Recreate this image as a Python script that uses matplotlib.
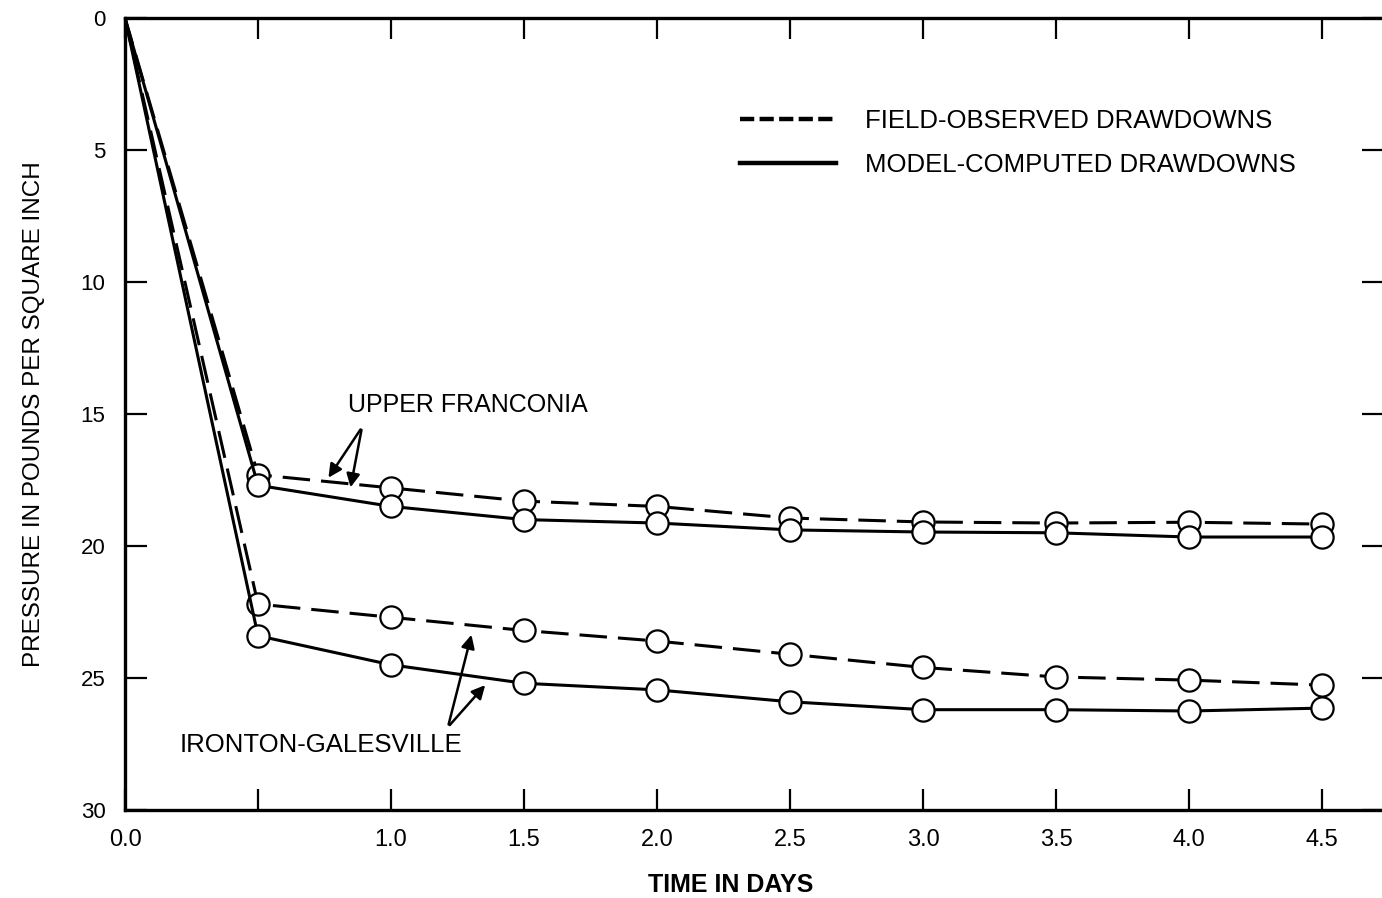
import matplotlib.pyplot as plt
from matplotlib.lines import Line2D

plt.rcParams['font.family'] = ['Liberation Sans', 'DejaVu Sans']

# time in days
days = [0.0, 0.5, 1.0, 1.5, 2.0, 2.5, 3.0, 3.5, 4.0, 4.5]

# drawdowns, psi
franconia_field = [0.0, 17.3, 17.8, 18.3, 18.5, 18.94, 19.09, 19.13, 19.1, 19.17]
franconia_model = [0.0, 17.7, 18.5, 19.0, 19.13, 19.39, 19.47, 19.5, 19.66, 19.66]
ironton_field = [0.0, 22.2, 22.7, 23.2, 23.6, 24.1, 24.6, 24.96, 25.08, 25.27]
ironton_model = [0.0, 23.4, 24.5, 25.2, 25.45, 25.9, 26.2, 26.2, 26.25, 26.14]

xtick_pos = [0.0, 0.5, 1.0, 1.5, 2.0, 2.5, 3.0, 3.5, 4.0, 4.5]
xtick_lab = ['0.0', '', '1.0', '1.5', '2.0', '2.5', '3.0', '3.5', '4.0', '4.5']
ytick_pos = [0, 5, 10, 15, 20, 25, 30]

fig = plt.figure(figsize=(13.82, 8.98), dpi=100)
ax = fig.add_axes([125/1382, 88/898, 1259/1382, 792/898])

dash = (0, (9, 3.6))
# no circle at the origin
mk = dict(marker='o', markersize=16, markerfacecolor='white',
          markeredgecolor='black', markeredgewidth=1.6, markevery=slice(1, None))

ax.plot(days, franconia_field, color='black', lw=2.2, linestyle=dash, **mk)
ax.plot(days, franconia_model, color='black', lw=2.2, **mk)
ax.plot(days, ironton_field, color='black', lw=2.2, linestyle=dash, **mk)
ax.plot(days, ironton_model, color='black', lw=2.2, **mk)

ax.set_xlim(0, 4.733)
ax.set_ylim(30, 0)

ax.set_xticks(xtick_pos)
ax.set_xticklabels(xtick_lab)
ax.set_yticks(ytick_pos)
ax.tick_params(axis='x', direction='in', length=15, width=1.6, top=True,
               labelsize=17, pad=14)
ax.tick_params(axis='y', direction='in', length=16, width=1.6, right=True,
               labelsize=16, pad=14)
for s in ax.spines.values():
    s.set_linewidth(2.4)

ax.set_xlabel('TIME IN DAYS', fontsize=18, fontweight='bold')
ax.xaxis.set_label_coords(0.481, -0.079)
ax.set_ylabel('PRESSURE IN POUNDS PER SQUARE INCH', fontsize=17.5, labelpad=26)

# annotations
arr = dict(arrowstyle='-|>', color='black', lw=1.8, mutation_scale=20)
ax.text(0.838, 14.66, 'UPPER FRANCONIA', fontsize=18, ha='left', va='center')
ax.annotate('', xy=(0.759, 17.5), xytext=(0.891, 15.5), arrowprops=arr)
ax.annotate('', xy=(0.846, 17.88), xytext=(0.891, 15.5), arrowprops=arr)

ax.text(0.207, 27.54, 'IRONTON-GALESVILLE', fontsize=18.5, ha='left', va='center')
ax.annotate('', xy=(1.305, 23.26), xytext=(1.214, 26.86), arrowprops=arr)
ax.annotate('', xy=(1.361, 25.19), xytext=(1.214, 26.86), arrowprops=arr)

handles = [Line2D([], [], color='black', lw=3.2, linestyle=(0, (3.2, 1.2))),
           Line2D([], [], color='black', lw=3.2)]
ax.legend(handles, ['FIELD-OBSERVED DRAWDOWNS', 'MODEL-COMPUTED DRAWDOWNS'],
          loc='upper left', bbox_to_anchor=(0.4705, 0.914), frameon=False,
          fontsize=18.5, handlelength=3.7, handletextpad=1.15, labelspacing=0.75,
          borderpad=0.4)

fig.savefig('out.png', dpi=100)
